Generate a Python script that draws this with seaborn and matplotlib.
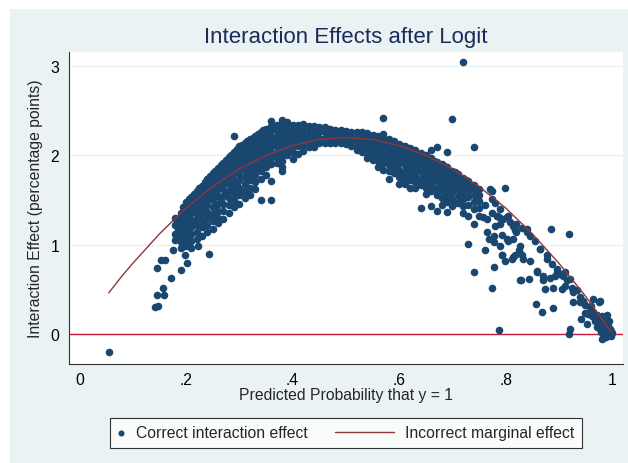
import numpy as np
import pandas as pd
import matplotlib
matplotlib.use("Agg")
import matplotlib.pyplot as plt
from matplotlib.patches import Rectangle
from matplotlib.lines import Line2D
from matplotlib.legend_handler import HandlerLine2D
import seaborn as sns

# --- data ----------------------------------------------------------------
# sparse points on the left tail
left_x = [0.055, 0.142, 0.148, 0.146, 0.159, 0.156, 0.172, 0.146, 0.154, 0.160,
          0.190, 0.201, 0.176, 0.198, 0.243, 0.222, 0.183, 0.192, 0.190, 0.185]
left_y = [-0.20, 0.30, 0.31, 0.44, 0.44, 0.52, 0.63, 0.74, 0.83, 0.83,
          0.72, 0.79, 0.94, 0.88, 0.90, 0.98, 1.11, 1.03, 1.30, 1.20]

# rising part of the band (column x -> y values)
rise_cols = [0.18, 0.19, 0.20, 0.21, 0.22, 0.23, 0.24, 0.25, 0.26, 0.27,
             0.28, 0.29, 0.30, 0.31, 0.32, 0.33, 0.34]
rise_vals = [
    [1.30, 1.22, 1.12, 1.05],
    [1.36, 1.30, 1.24, 1.17, 1.10, 1.03, 0.96],
    [1.48, 1.42, 1.36, 1.30, 1.24, 1.18, 1.12, 1.06, 0.99],
    [1.53, 1.47, 1.41, 1.35, 1.28, 1.20, 1.12, 1.04, 0.96],
    [1.60, 1.54, 1.48, 1.42, 1.36, 1.30, 1.22, 1.14, 1.06],
    [1.66, 1.60, 1.54, 1.48, 1.42, 1.35, 1.28, 1.20, 1.10],
    [1.74, 1.68, 1.62, 1.56, 1.50, 1.44, 1.37, 1.30, 1.22, 1.14],
    [1.80, 1.74, 1.68, 1.62, 1.56, 1.50, 1.42, 1.34, 1.26, 1.18],
    [1.86, 1.80, 1.74, 1.68, 1.62, 1.55, 1.46, 1.38, 1.30, 1.24],
    [1.92, 1.86, 1.80, 1.74, 1.68, 1.62, 1.54, 1.46, 1.38, 1.29],
    [1.98, 1.92, 1.86, 1.80, 1.74, 1.68, 1.60, 1.52, 1.44, 1.36],
    [2.04, 1.98, 1.92, 1.86, 1.80, 1.73, 1.66, 1.58, 1.50, 1.42, 2.22],
    [2.10, 2.04, 1.98, 1.92, 1.86, 1.79, 1.72, 1.64, 1.56, 1.46],
    [2.14, 2.08, 2.02, 1.96, 1.90, 1.84, 1.76, 1.68, 1.60, 1.52],
    [2.18, 2.12, 2.06, 2.00, 1.94, 1.88, 1.80, 1.72, 1.64, 1.56],
    [2.22, 2.16, 2.10, 2.04, 1.98, 1.92, 1.85, 1.78, 1.70, 1.62],
    [2.26, 2.20, 2.14, 2.08, 2.02, 1.96, 1.90, 1.82, 1.74, 1.50],
]
# in-between columns of the rising part (dense upper layer)
rise_mid_cols = [0.185, 0.195, 0.205, 0.215, 0.225, 0.235, 0.245, 0.255, 0.265,
                 0.275, 0.285, 0.295, 0.305, 0.315, 0.325, 0.335, 0.345]
rise_mid_vals = [
    [1.27, 1.16, 1.08],
    [1.42, 1.33, 1.21, 1.14],
    [1.51, 1.45, 1.39, 1.33, 1.15],
    [1.57, 1.50, 1.44, 1.38, 1.24],
    [1.63, 1.57, 1.51, 1.45, 1.33],
    [1.70, 1.63, 1.57, 1.51, 1.45, 1.25],
    [1.77, 1.71, 1.65, 1.59, 1.53, 1.33],
    [1.83, 1.77, 1.71, 1.65, 1.59, 1.40],
    [1.89, 1.83, 1.77, 1.71, 1.65, 1.50],
    [1.95, 1.89, 1.83, 1.77, 1.71, 1.57],
    [2.01, 1.95, 1.89, 1.83, 1.77, 1.63],
    [2.07, 2.01, 1.95, 1.89, 1.83, 1.69],
    [2.12, 2.06, 2.00, 1.94, 1.88, 1.60],
    [2.16, 2.10, 2.04, 1.98, 1.92, 1.72],
    [2.20, 2.14, 2.08, 2.02, 1.96, 1.75],
    [2.24, 2.18, 2.12, 2.06, 2.00, 1.86],
    [2.28, 2.22, 2.16, 2.10, 2.04],
]

# top of the band
peak_cols = [0.35, 0.36, 0.37, 0.38, 0.39, 0.40, 0.41, 0.42, 0.43, 0.44, 0.45,
             0.46, 0.47, 0.48, 0.49, 0.50, 0.51, 0.52, 0.53, 0.54, 0.55]
peak_vals = [
    [2.30, 2.24, 2.18, 2.12, 2.06, 2.00, 1.94, 1.87, 1.78],
    [2.33, 2.27, 2.21, 2.15, 2.09, 2.03, 1.97, 1.90, 1.71, 2.39, 1.50],
    [2.34, 2.28, 2.22, 2.16, 2.10, 2.04, 1.98, 1.92],
    [2.35, 2.29, 2.23, 2.17, 2.11, 2.05, 1.99, 1.94, 1.82, 1.87, 2.40],
    [2.36, 2.30, 2.24, 2.18, 2.12, 2.06, 2.00, 2.37],
    [2.34, 2.28, 2.22, 2.16, 2.10, 2.04, 1.96],
    [2.34, 2.28, 2.22, 2.16, 2.10, 2.02],
    [2.35, 2.29, 2.23, 2.17, 2.11, 2.05],
    [2.33, 2.27, 2.21, 2.15, 2.09],
    [2.33, 2.27, 2.21, 2.15, 2.09],
    [2.32, 2.26, 2.20, 2.14],
    [2.32, 2.26, 2.20, 2.14],
    [2.30, 2.25, 2.19, 2.14],
    [2.29, 2.24, 2.19, 2.14],
    [2.28, 2.23, 2.18, 2.14],
    [2.27, 2.22, 2.17, 2.13],
    [2.26, 2.21, 2.16, 2.11],
    [2.26, 2.21, 2.16, 2.11, 2.06],
    [2.26, 2.21, 2.16, 2.10, 2.04],
    [2.25, 2.20, 2.15, 2.09, 2.03, 1.97],
    [2.23, 2.18, 2.13, 2.07, 2.01, 1.95],
]

# falling part of the band
fall_cols = [0.56, 0.57, 0.58, 0.59, 0.60, 0.61, 0.62, 0.63, 0.64, 0.65,
             0.66, 0.67, 0.68, 0.69, 0.70, 0.71, 0.72, 0.73, 0.74, 0.75]
fall_vals = [
    [2.22, 2.17, 2.12, 2.06, 2.00, 1.94, 1.87],
    [2.20, 2.15, 2.10, 2.04, 1.98, 1.92, 1.84, 2.42, 2.24],
    [2.18, 2.13, 2.08, 2.02, 1.96, 1.89, 1.82, 1.74],
    [2.16, 2.11, 2.06, 2.00, 1.94, 1.87, 1.80],
    [2.13, 2.08, 2.03, 1.97, 1.91, 1.84, 1.76, 1.68],
    [2.11, 2.06, 2.01, 1.95, 1.89, 1.82, 1.75, 1.68],
    [2.08, 2.03, 1.98, 1.92, 1.86, 1.79, 1.72, 1.64],
    [2.06, 2.01, 1.96, 1.90, 1.84, 1.77, 1.70, 1.63],
    [2.03, 1.98, 1.93, 1.87, 1.81, 1.74, 1.67, 1.41],
    [2.00, 1.95, 1.90, 1.84, 1.78, 1.71, 1.64, 1.57],
    [1.97, 1.92, 1.87, 1.81, 1.75, 1.68, 1.60, 1.43, 2.06],
    [1.93, 1.88, 1.83, 1.77, 1.71, 1.64, 1.56, 1.38, 2.09],
    [1.90, 1.85, 1.80, 1.74, 1.68, 1.61, 1.52, 1.45],
    [1.87, 1.82, 1.76, 1.70, 1.63, 1.56, 1.48, 1.37, 2.04],
    [1.83, 1.78, 1.72, 1.66, 1.59, 1.51, 1.43, 2.41],
    [1.79, 1.74, 1.68, 1.62, 1.55, 1.47],
    [1.75, 1.70, 1.64, 1.58, 1.51, 1.43, 1.35, 3.05],
    [1.71, 1.66, 1.60, 1.53, 1.45, 1.32, 1.01],
    [1.67, 1.62, 1.56, 1.48, 1.40, 1.23, 2.09, 0.69],
    [1.62, 1.56, 1.49, 1.41, 1.32],
]
# in-between columns of the falling part
fall_mid_cols = [0.555, 0.565, 0.585, 0.605, 0.625, 0.645, 0.665, 0.685, 0.705,
                 0.725, 0.745]
fall_mid_vals = [
    [2.22, 2.15, 2.08],
    [2.19, 2.14, 2.09, 2.03, 1.91],
    [2.15, 2.10, 2.05, 1.99, 1.85],
    [2.10, 2.05, 2.00, 1.94, 1.80, 1.72],
    [2.05, 2.00, 1.95, 1.89, 1.75],
    [2.00, 1.95, 1.90, 1.84, 1.70],
    [1.94, 1.89, 1.84, 1.78, 1.62],
    [1.88, 1.83, 1.77, 1.71, 1.55],
    [1.81, 1.75, 1.69, 1.62, 1.47],
    [1.73, 1.67, 1.61, 1.53],
    [1.64, 1.58, 1.50],
]

# sparse right tail
tail_x = [0.761, 0.764, 0.769, 0.778, 0.778, 0.775, 0.774, 0.761, 0.758, 0.780,
          0.788, 0.787, 0.799, 0.792, 0.827, 0.844, 0.857, 0.867, 0.888, 0.885,
          0.918, 0.920, 0.919, 0.942, 0.952, 0.977, 0.964, 0.827, 0.839, 0.864,
          0.877, 0.896, 0.927, 0.945, 0.964, 0.983, 0.858, 0.870, 0.889, 0.907,
          0.911, 0.874, 0.939, 0.949, 0.971, 0.989, 0.814, 0.802, 0.789, 0.777,
          0.764, 0.783, 0.774, 0.789, 0.802, 0.814, 0.830, 0.792, 0.799, 0.811,
          0.817, 0.833, 0.825, 0.845, 0.792, 0.805, 0.814, 0.820, 0.858, 0.870,
          0.883, 0.892, 0.902, 0.914, 0.924, 0.939, 0.949, 0.958, 0.971, 0.983,
          0.992, 0.986, 0.983, 0.995, 0.977, 0.845, 0.855, 0.864, 0.877, 0.886,
          0.896, 0.911, 0.920, 0.933, 0.945, 0.958, 0.770, 0.780, 0.783, 0.805,
          0.808, 0.820, 0.830, 0.839, 0.817, 0.789, 0.795, 0.774, 0.905, 0.926,
          0.975, 0.828, 0.975, 0.980, 0.985, 0.990, 0.993, 0.997, 0.998, 0.988,
          0.979, 0.972, 0.968, 0.962, 0.955, 0.960, 0.995, 0.980, 1.000, 0.987]
tail_y = [0.94, 1.14, 1.06, 1.03, 0.75, 0.52, 1.60, 1.44, 1.31, 1.21,
          1.31, 0.05, 1.64, 0.89, 0.60, 0.62, 0.34, 0.25, 0.29, 1.18,
          1.12, 0.06, 0.00, 0.17, 0.11, 0.37, 0.39, 0.99, 1.14, 0.95,
          0.84, 0.69, 0.47, 0.36, 0.25, 0.09, 0.69, 0.60, 0.52, 0.65,
          0.54, 0.50, 0.36, 0.24, 0.17, 0.21, 1.21, 1.06, 0.99, 1.10,
          1.29, 1.32, 1.51, 1.40, 1.31, 0.86, 0.88, 0.88, 0.82, 0.84,
          0.88, 0.84, 0.94, 0.82, 1.11, 1.04, 1.06, 1.14, 0.71, 0.65,
          0.63, 0.65, 0.67, 0.60, 0.52, 0.41, 0.32, 0.26, 0.21, 0.15,
          0.09, 0.02, -0.04, 0.00, 0.06, 1.10, 1.04, 0.95, 0.88, 0.78,
          0.73, 0.69, 0.62, 0.49, 0.37, 0.30, 1.62, 1.47, 1.32, 1.32,
          1.25, 1.23, 1.19, 1.18, 1.16, 1.23, 1.29, 1.36, 0.50, 0.36,
          0.36, 0.61, 0.12, 0.20, 0.10, 0.05, 0.14, 0.03, -0.02, -0.03,
          0.02, 0.08, 0.14, 0.20, 0.22, 0.31, 0.06, -0.06, 0.01, 0.12]

# incorrect marginal effect curve
curve_x = [0.055, 0.08, 0.10, 0.15, 0.20, 0.25, 0.30, 0.35, 0.40, 0.45, 0.50,
           0.55, 0.60, 0.65, 0.70, 0.75, 0.80, 0.85, 0.90, 0.95, 0.975, 0.998]
curve_y = [0.46, 0.65, 0.79, 1.12, 1.41, 1.65, 1.85, 2.00, 2.11, 2.18, 2.20,
           2.18, 2.11, 2.00, 1.85, 1.65, 1.41, 1.12, 0.79, 0.42, 0.21, 0.02]

x_ticks = [0, 0.2, 0.4, 0.6, 0.8, 1.0]
x_tick_labels = ["0", ".2", ".4", ".6", ".8", "1"]
y_ticks = [0, 1, 2, 3]
y_tick_labels = ["0", "1", "2", "3"]


def flatten(cols, vals):
    xs, ys = [], []
    for c, v in zip(cols, vals):
        xs += [c] * len(v)
        ys += v
    return xs, ys


all_x, all_y = list(left_x), list(left_y)
for cols, vals in [(rise_cols, rise_vals), (rise_mid_cols, rise_mid_vals),
                   (peak_cols, peak_vals), (fall_cols, fall_vals),
                   (fall_mid_cols, fall_mid_vals)]:
    xs, ys = flatten(cols, vals)
    all_x += xs
    all_y += ys
all_x += tail_x
all_y += tail_y

points = pd.DataFrame({"prob": all_x, "effect": all_y})
curve = pd.DataFrame({"prob": curve_x, "effect": curve_y})

# --- styling ---------------------------------------------------------------
sns.set_style("white")
plt.rcParams["font.family"] = ["Liberation Sans", "DejaVu Sans"]

BG = "#EAF2F3"
NAVY = "#1A476F"
MAROON = "#90353B"
FS = 11.3

fig = plt.figure(figsize=(6.28, 4.64), dpi=100)
fig.patch.set_facecolor("white")
fig.patches.append(Rectangle((10 / 628, 0), 1, 1 - 10 / 464, transform=fig.transFigure,
                             facecolor=BG, edgecolor="none", zorder=-10))

ax = fig.add_axes([69 / 628, 1 - 365 / 464, (623 - 69) / 628, (365 - 53) / 464])
ax.set_facecolor("white")

sns.scatterplot(data=points, x="prob", y="effect", ax=ax, color=NAVY, s=30,
                linewidth=0, label="Correct interaction effect", zorder=3)
sns.lineplot(data=curve, x="prob", y="effect", ax=ax, color=MAROON, lw=1.0,
             sort=False, estimator=None, label="Incorrect marginal effect", zorder=4)
ax.axhline(0, color="#C41E3A", lw=1.0, zorder=2)

ax.set_xlim(-0.0195, 1.0199)
ax.set_ylim(-0.336, 3.158)
ax.set_xticks(x_ticks)
ax.set_xticklabels(x_tick_labels)
ax.set_yticks(y_ticks)
ax.set_yticklabels(y_tick_labels)
ax.grid(axis="y", color=BG, lw=1.0)
ax.grid(axis="x", visible=False)
ax.set_axisbelow(True)

for side in ["top", "right"]:
    ax.spines[side].set_visible(False)
for side in ["left", "bottom"]:
    ax.spines[side].set_color("#333333")
    ax.spines[side].set_linewidth(0.8)
ax.tick_params(axis="both", direction="out", length=4, width=0.8, color="#333333",
               labelsize=FS, labelcolor="black")
ax.tick_params(axis="y", pad=3)
ax.tick_params(axis="x", pad=2)

ax.set_xlabel("Predicted Probability that y = 1", fontsize=FS, labelpad=0)
ax.set_ylabel("Interaction Effect (percentage points)", fontsize=FS, labelpad=5)
fig.text(346 / 628, 1 - 38 / 464, "Interaction Effects after Logit", ha="center",
         va="center", fontsize=16, color="#1C2B5A")

# Stata-like legend: narrow marker key, wide line key
handles, labels = ax.get_legend_handles_labels()
if ax.get_legend() is not None:
    ax.get_legend().remove()


class WideLine(HandlerLine2D):
    def create_artists(self, legend, orig_handle, xdescent, ydescent, width,
                       height, fontsize, trans):
        extra = 3.3 * fontsize
        y = height / 2 - ydescent
        line = Line2D([-xdescent - extra, width - xdescent], [y, y])
        self.update_prop(line, orig_handle, legend)
        line.set_transform(trans)
        return [line]


leg = fig.legend(handles, labels, loc="center", bbox_to_anchor=(346 / 628, 1 - 434 / 464),
                 ncol=2, fontsize=FS, frameon=True, fancybox=False, shadow=False,
                 handlelength=0.5, handletextpad=0.7, columnspacing=5.0,
                 borderpad=0.45, markerscale=0.8,
                 handler_map={handles[1]: WideLine()})
leg.get_frame().set_edgecolor("black")
leg.get_frame().set_linewidth(0.8)
leg.get_frame().set_facecolor("white")

fig.savefig("out.png", dpi=100, facecolor=fig.get_facecolor())
